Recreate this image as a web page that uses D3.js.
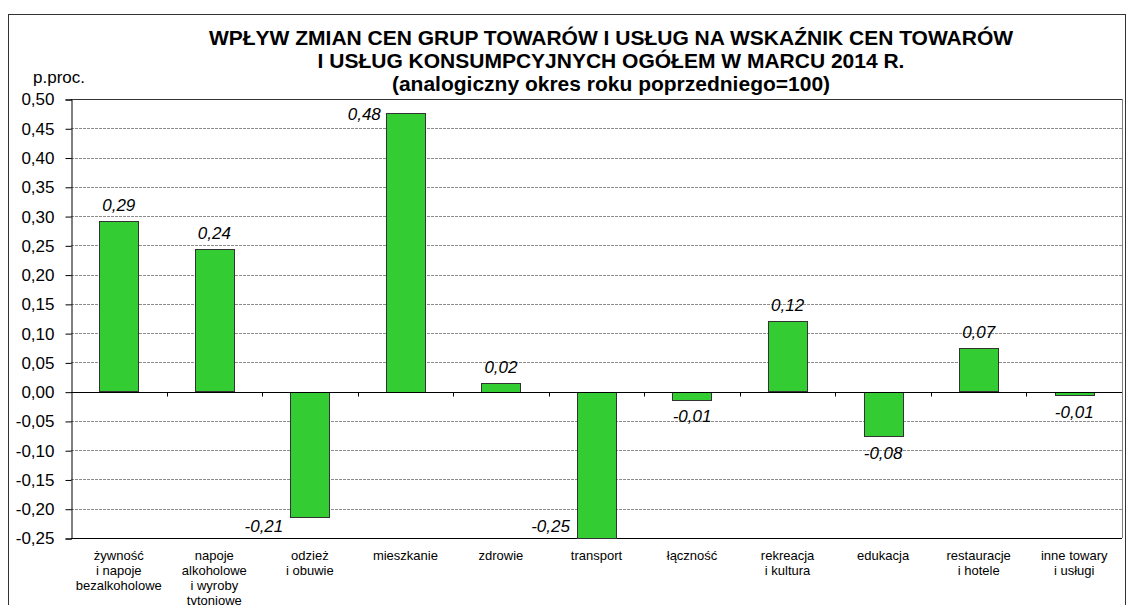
<!DOCTYPE html>
<html>
<head>
<meta charset="utf-8">
<script src="https://cdn.jsdelivr.net/npm/d3@7/dist/d3.min.js"></script>
<style>
  body { margin: 0; background: #fff; }
  text { font-family: "Liberation Sans", Arial, sans-serif; }
</style>
</head>
<body>
<script>
// chart data
var categories = [
	['żywność', 'i napoje', 'bezalkoholowe'],
	['napoje', 'alkoholowe', 'i wyroby', 'tytoniowe'],
	['odzież', 'i obuwie'],
	['mieszkanie'],
	['zdrowie'],
	['transport'],
	['łączność'],
	['rekreacja', 'i kultura'],
	['edukacja'],
	['restauracje', 'i hotele'],
	['inne towary', 'i usługi']
];
var values = [0.291, 0.243, -0.214, 0.476, 0.015, -0.249, -0.013, 0.120, -0.075, 0.074, -0.005];
var valueLabels = ['0,29', '0,24', '-0,21', '0,48', '0,02', '-0,25', '-0,01', '0,12', '-0,08', '0,07', '-0,01'];
var yTicks = [-0.25, -0.20, -0.15, -0.10, -0.05, 0, 0.05, 0.10, 0.15, 0.20, 0.25, 0.30, 0.35, 0.40, 0.45, 0.50];
var titleLines = [
	'WPŁYW ZMIAN CEN GRUP TOWARÓW I USŁUG NA WSKAŹNIK CEN TOWARÓW',
	'I USŁUG KONSUMPCYJNYCH OGÓŁEM W MARCU 2014 R.',
	'(analogiczny okres roku poprzedniego=100)'
];
var unitLabel = 'p.proc.';

// sizing (plot area edges)
var W = 1130, H = 605,
	pLeft = 71, pRight = 1122, pTop = 99, pBottom = 538;

// polish number format: comma decimal, hyphen minus
var pl = d3.formatLocale({decimal: ',', thousands: ' ', grouping: [3], currency: ['', ' zł'], minus: '-'});
var fmt = pl.format('.2f');

var svg = d3.select('body').append('svg')
	.attr('width', W)
	.attr('height', H);

// outer frame
svg.append('rect')
	.attr('x', 8.5)
	.attr('y', 14.5)
	.attr('width', 1117)
	.attr('height', 620)
	.attr('fill', 'white')
	.attr('stroke', '#333')
	.attr('stroke-width', 1);

var x = d3.scaleBand()
	.domain(d3.range(categories.length))
	.range([pLeft, pRight])
	.paddingInner(0.59)
	.paddingOuter(0.295);

var y = d3.scaleLinear()
	.domain([-0.25, 0.5])
	.range([pBottom, pTop]);

// gridlines
svg.append('g')
	.selectAll('line')
	.data(yTicks.filter(function(d) { return d !== 0 && d !== 0.5 && d !== -0.25; }))
	.join('line')
	.attr('x1', pLeft)
	.attr('x2', pRight)
	.attr('y1', function(d) { return Math.round(y(d)) + 0.5; })
	.attr('y2', function(d) { return Math.round(y(d)) + 0.5; })
	.attr('stroke', '#8c8c8c')
	.attr('stroke-width', 1)
	.attr('stroke-dasharray', '3,1');

// plot border (top, right, bottom)
svg.append('line')
	.attr('x1', pLeft).attr('x2', pRight)
	.attr('y1', Math.round(y(0.5)) + 0.5).attr('y2', Math.round(y(0.5)) + 0.5)
	.attr('stroke', '#333');
svg.append('line')
	.attr('x1', pRight + 0.5).attr('x2', pRight + 0.5)
	.attr('y1', pTop).attr('y2', pBottom)
	.attr('stroke', '#808080');
svg.append('line')
	.attr('x1', pLeft).attr('x2', pRight)
	.attr('y1', Math.round(y(-0.25)) + 0.5).attr('y2', Math.round(y(-0.25)) + 0.5)
	.attr('stroke', '#000');

// bars
svg.append('g')
	.selectAll('rect')
	.data(values)
	.join('rect')
	.attr('x', function(d, i) { return Math.round(x(i)) + 0.5; })
	.attr('y', function(d) { return Math.round(y(Math.max(0, d))) + 0.5; })
	.attr('width', Math.round(x.bandwidth()))
	.attr('height', function(d) { return Math.max(1, Math.round(Math.abs(y(d) - y(0)))); })
	.attr('fill', '#33cc33')
	.attr('stroke', '#333')
	.attr('stroke-width', 1);

// zero line with category ticks
var zy = Math.round(y(0)) + 0.5;
svg.append('line')
	.attr('x1', pLeft).attr('x2', pRight)
	.attr('y1', zy).attr('y2', zy)
	.attr('stroke', '#000');
svg.append('g')
	.selectAll('line')
	.data(d3.range(1, categories.length))
	.join('line')
	.attr('x1', function(i) { return Math.round(x(i) - x.step() * 0.295) + 0.5; })
	.attr('x2', function(i) { return Math.round(x(i) - x.step() * 0.295) + 0.5; })
	.attr('y1', zy)
	.attr('y2', zy + 4)
	.attr('stroke', '#000');

// y axis
var yAxis = svg.append('g')
	.attr('transform', 'translate(' + (pLeft + 0.5) + ',0.5)')
	.call(d3.axisLeft(y).tickValues(yTicks).tickSize(6).tickPadding(11)
		.tickFormat(function(d) { return fmt(d); }));
yAxis.select('.domain').attr('stroke', '#000');
yAxis.selectAll('.tick line').attr('stroke', '#000');
yAxis.selectAll('.tick text')
	.attr('font-family', '"Liberation Sans", Arial, sans-serif')
	.attr('font-size', 17)
	.attr('fill', '#000');

// value labels
svg.append('g')
	.selectAll('text')
	.data(values)
	.join('text')
	.text(function(d, i) { return valueLabels[i]; })
	.attr('font-size', 17)
	.attr('font-style', 'italic')
	.attr('fill', '#000')
	.each(function(d, i) {
		var t = d3.select(this),
			cx = x(i) + x.bandwidth() / 2,
			bx = x(i),
			yy;
		if (d >= 0) {
			yy = y(d) - 10;
			if (yy - 13 < pTop) {
				// no room above the bar: put it on the left
				t.attr('x', bx - 5).attr('y', y(d) + 7).attr('text-anchor', 'end');
			} else {
				t.attr('x', cx).attr('y', yy).attr('text-anchor', 'middle');
			}
		} else {
			yy = y(d) + 23;
			if (yy > pBottom) {
				t.attr('x', bx - 7).attr('y', pBottom - 6).attr('text-anchor', 'end');
			} else {
				t.attr('x', cx).attr('y', yy).attr('text-anchor', 'middle');
			}
		}
	});

// category labels
svg.append('g')
	.selectAll('text')
	.data(categories)
	.join('text')
	.attr('font-size', 13)
	.attr('fill', '#000')
	.attr('text-anchor', 'middle')
	.each(function(lines, i) {
		var t = d3.select(this);
		lines.forEach(function(s, k) {
			t.append('tspan')
				.attr('x', x(i) + x.bandwidth() / 2)
				.attr('y', 560 + k * 15)
				.text(s);
		});
	});

// title
svg.append('g')
	.selectAll('text')
	.data(titleLines)
	.join('text')
	.text(function(d) { return d; })
	.attr('x', 611)
	.attr('y', function(d, i) { return 45 + i * 23; })
	.attr('text-anchor', 'middle')
	.attr('font-size', 21)
	.attr('font-weight', 'bold')
	.attr('fill', '#000');

// unit label
svg.append('text')
	.text(unitLabel)
	.attr('x', 33)
	.attr('y', 83)
	.attr('font-size', 17)
	.attr('fill', '#000');
</script>
</body>
</html>
